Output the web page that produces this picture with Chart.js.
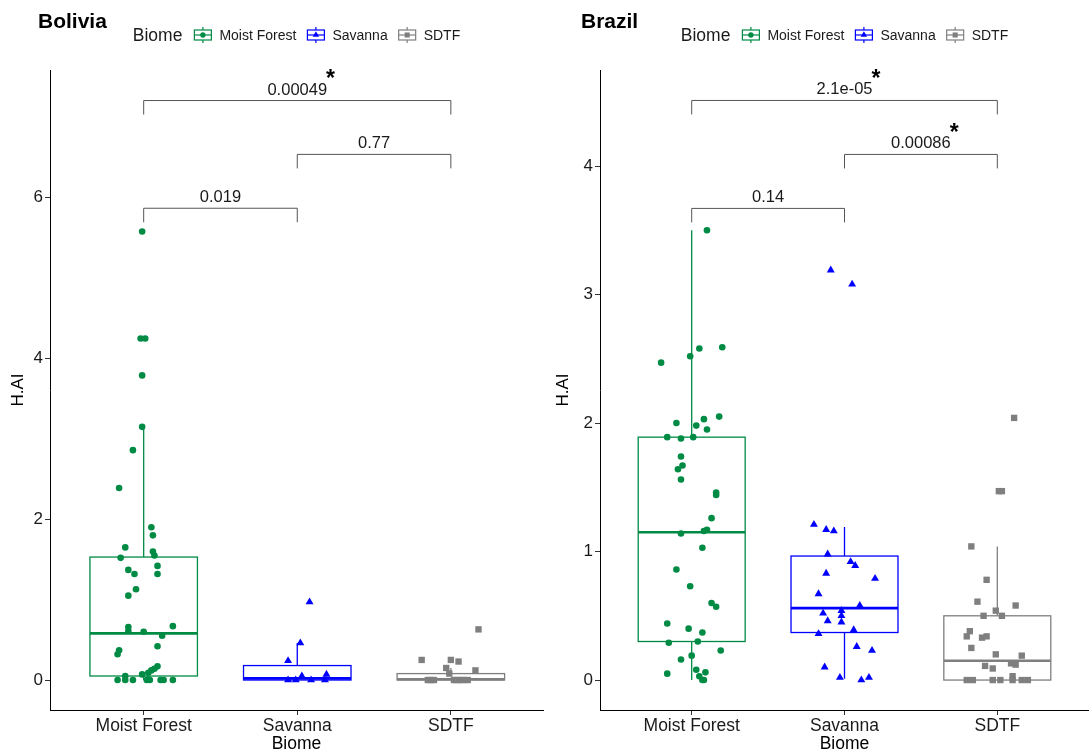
<!DOCTYPE html>
<html>
<head>
<meta charset="utf-8">
<title>H.AI by biome</title>
<script src="https://cdn.jsdelivr.net/npm/chart.js@4.4.0/dist/chart.umd.min.js"></script>
<style>
  html, body { margin: 0; padding: 0; background: #fff; }
  #wrap { position: relative; width: 1089px; height: 755px; }
  canvas { position: absolute; top: 0; }
  #bolivia { left: 0; }
  #brazil { left: 545px; }
</style>
</head>
<body>
<div id="wrap">
  <canvas id="bolivia" width="545" height="755"></canvas>
  <canvas id="brazil" width="544" height="755"></canvas>
</div>
<script>
const biomes = ['Moist Forest', 'Savanna', 'SDTF'];

// Bolivia: H.AI per site and its horizontal jitter around the biome position
const bolMoistHAI = [5.58, 4.25, 4.25, 3.79, 3.15, 2.86, 2.39, 1.90, 1.80, 1.65, 1.60, 1.55, 1.52, 1.42,
  1.37, 1.32, 1.32, 1.13, 1.05, 0.67, 0.66, 0.61, 0.60, 0.55, 0.42, 0.37, 0.32, 0.17, 0.14, 0.12,
  0.09, 0.07, 0.05, 0.01, 0, 0, 0, 0, 0, 0, 0, 0];
const bolMoistJit = [-0.01, -0.02, 0.01, -0.01, -0.01, -0.07, -0.16, 0.05, 0.06, -0.12, 0.06, 0.07, -0.15, 0.09,
  -0.10, -0.06, 0.09, -0.05, -0.10, 0.19, -0.10, -0.10, 0.00, 0.12, 0.09, -0.16, -0.17, 0.09, 0.07, 0.05,
  0.03, -0.01, -0.12, 0.03, -0.17, -0.12, -0.07, 0.02, 0.04, 0.11, 0.13, 0.19];
const bolSavHAI = [0.97, 0.46, 0.24, 0.07, 0.05, 0, 0, 0, 0];
const bolSavJit = [0.08, 0.02, -0.06, 0.19, 0.03, -0.06, -0.01, 0.09, 0.18];
const bolSdtfHAI = [0.63, 0.25, 0.25, 0.23, 0.15, 0.12, 0.08, 0, 0, 0, 0, 0, 0, 0, 0];
const bolSdtfJit = [0.18, -0.19, 0.00, 0.05, -0.03, 0.16, -0.01, -0.15, -0.13, -0.11, 0.02, 0.04, 0.06, 0.08, 0.11];

// Bolivia box summaries (Moist Forest, Savanna, SDTF)
const bolBoxLow = [0, 0, 0];
const bolBoxQ1 = [0.05, 0, 0];
const bolBoxMed = [0.58, 0.02, 0.01];
const bolBoxQ3 = [1.53, 0.18, 0.08];
const bolBoxHigh = [3.15, 0.46, 0.15];

// Bolivia pairwise tests
const bolPairs = [[1, 2], [2, 3], [1, 3]];
const bolPValues = ['0.019', '0.77', '0.00049'];
const bolPStars = ['', '', '*'];
const bolLabelY = [5.87, 6.54, 7.21];
const bolYTicks = [0, 2, 4, 6];

// Brazil
const braMoistHAI = [3.50, 2.59, 2.58, 2.52, 2.47, 2.05, 2.03, 2.00, 1.98, 1.95, 1.89, 1.88, 1.89, 1.74,
  1.67, 1.64, 1.56, 1.46, 1.44, 1.26, 1.17, 1.16, 1.14, 1.03, 0.86, 0.73, 0.60, 0.57, 0.44, 0.40,
  0.37, 0.30, 0.29, 0.23, 0.19, 0.16, 0.08, 0.06, 0.05, 0.03, 0, 0];
const braMoistJit = [0.10, 0.20, 0.05, -0.01, -0.20, 0.18, 0.08, -0.10, 0.03, 0.10, -0.16, -0.07, 0.01, -0.07,
  -0.06, -0.09, -0.07, 0.16, 0.16, 0.13, 0.10, 0.08, -0.07, 0.07, -0.10, -0.01, 0.13, 0.16, -0.16, -0.02,
  0.07, 0.04, -0.15, 0.19, 0.00, -0.07, 0.03, 0.09, -0.16, 0.05, 0.07, 0.08];
const braSavHAI = [3.19, 3.08, 1.21, 1.17, 1.16, 0.98, 0.92, 0.89, 0.83, 0.79, 0.67, 0.58, 0.54, 0.52,
  0.50, 0.46, 0.45, 0.39, 0.36, 0.26, 0.23, 0.10, 0.02, 0.02, 0];
const braSavJit = [-0.09, 0.05, -0.20, -0.12, -0.07, -0.11, 0.04, 0.07, -0.12, 0.20, -0.17, 0.10, -0.02, -0.14,
  -0.02, -0.11, -0.02, 0.06, -0.17, 0.08, 0.18, -0.13, -0.03, 0.16, 0.11];
const braSdtfHAI = [2.04, 1.47, 1.47, 1.04, 0.78, 0.61, 0.58, 0.54, 0.50, 0.50, 0.38, 0.34, 0.33, 0.34,
  0.25, 0.20, 0.19, 0.13, 0.12, 0.11, 0.09, 0.03, 0, 0, 0, 0, 0, 0, 0];
const braSdtfJit = [0.11, 0.01, 0.03, -0.17, -0.07, -0.13, 0.12, -0.01, -0.09, 0.03, -0.18, -0.20, -0.10, -0.07,
  -0.17, -0.01, 0.16, 0.09, 0.12, -0.08, -0.03, 0.10, -0.20, -0.16, -0.03, 0.02, 0.10, 0.16, 0.20];

const braBoxLow = [0, 0.01, 0];
const braBoxQ1 = [0.30, 0.37, 0];
const braBoxMed = [1.15, 0.56, 0.15];
const braBoxQ3 = [1.89, 0.965, 0.50];
const braBoxHigh = [3.50, 1.19, 1.04];

const braPairs = [[1, 2], [2, 3], [1, 3]];
const braPValues = ['0.14', '0.00086', '2.1e-05'];
const braPStars = ['', '*', '*'];
const braLabelY = [3.67, 4.09, 4.51];
const braYTicks = [0, 1, 2, 3, 4];

const biomeColors = ['#008B45', '#0000FF', '#7F7F7F'];
const biomeShapes = ['circle', 'triangle', 'rect'];
const pointSizes = [3.3, 4.6, 4.5];
const FONT = '"Liberation Sans", Arial, sans-serif';

Chart.defaults.font.family = FONT;
Chart.defaults.color = '#1a1a1a';

function drawKey(ctx, cx, cy, i) {
  ctx.save();
  ctx.strokeStyle = biomeColors[i];
  ctx.fillStyle = '#fff';
  ctx.lineWidth = 1.2;
  ctx.beginPath();
  ctx.moveTo(cx, cy - 8); ctx.lineTo(cx, cy - 5);
  ctx.moveTo(cx, cy + 5); ctx.lineTo(cx, cy + 8);
  ctx.stroke();
  ctx.fillRect(cx - 8.5, cy - 5, 17, 10);
  ctx.strokeRect(cx - 8.5, cy - 5, 17, 10);
  ctx.beginPath();
  ctx.moveTo(cx - 8.5, cy); ctx.lineTo(cx + 8.5, cy);
  ctx.stroke();
  ctx.fillStyle = biomeColors[i];
  Chart.helpers.drawPoint(ctx, { pointStyle: biomeShapes[i], radius: pointSizes[i] * 0.8, borderWidth: 0, rotation: 0 }, cx, cy);
  ctx.restore();
}

function panelDecor(p) {
  return {
    id: 'panelDecor',
    beforeDatasetsDraw(chart) {
      const { ctx, scales: { x, y } } = chart;
      const half = x.getPixelForValue(1.35) - x.getPixelForValue(1);
      p.med.forEach((m, i) => {
        const cx = x.getPixelForValue(i + 1);
        const top = y.getPixelForValue(p.q3[i]);
        const bot = y.getPixelForValue(p.q1[i]);
        ctx.save();
        ctx.strokeStyle = biomeColors[i];
        ctx.lineWidth = 1.3;
        ctx.beginPath();
        ctx.moveTo(cx, top); ctx.lineTo(cx, y.getPixelForValue(p.high[i]));
        ctx.moveTo(cx, bot); ctx.lineTo(cx, y.getPixelForValue(p.low[i]));
        ctx.stroke();
        ctx.fillStyle = '#fff';
        ctx.fillRect(cx - half, top, 2 * half, bot - top);
        ctx.strokeRect(cx - half, top, 2 * half, bot - top);
        const my = y.getPixelForValue(m);
        ctx.lineWidth = 2.6;
        ctx.beginPath();
        ctx.moveTo(cx - half, my); ctx.lineTo(cx + half, my);
        ctx.stroke();
        ctx.restore();
      });
    },
    afterDatasetsDraw(chart) {
      const { ctx, scales: { x, y } } = chart;
      p.pairs.forEach((pair, i) => {
        const x1 = x.getPixelForValue(pair[0]);
        const x2 = x.getPixelForValue(pair[1]);
        const yp = y.getPixelForValue(p.labelY[i]);
        ctx.save();
        ctx.strokeStyle = '#555';
        ctx.lineWidth = 1;
        ctx.beginPath();
        ctx.moveTo(x1, yp + 14); ctx.lineTo(x1, yp); ctx.lineTo(x2, yp); ctx.lineTo(x2, yp + 14);
        ctx.stroke();
        ctx.fillStyle = '#1a1a1a';
        ctx.font = '16.5px ' + FONT;
        ctx.textAlign = 'center';
        ctx.textBaseline = 'alphabetic';
        const mid = (x1 + x2) / 2;
        ctx.fillText(p.pValues[i], mid, yp - 6);
        if (p.stars[i]) {
          const w = ctx.measureText(p.pValues[i]).width;
          ctx.font = 'bold 23px ' + FONT;
          ctx.textAlign = 'left';
          ctx.fillStyle = '#000';
          ctx.fillText(p.stars[i], mid + w / 2 - 1, yp - 14.5);
        }
        ctx.restore();
      });
    },
    afterDraw(chart) {
      const { ctx, chartArea } = chart;
      ctx.save();
      ctx.fillStyle = '#000';
      ctx.font = 'bold 21px ' + FONT;
      ctx.textAlign = 'left';
      ctx.textBaseline = 'alphabetic';
      ctx.fillText(p.title, p.titleX, 28);

      // legend row centred over the panel
      ctx.font = '17.5px ' + FONT;
      const titleW = ctx.measureText('Biome').width;
      ctx.font = '14px ' + FONT;
      const labelW = biomes.map(b => ctx.measureText(b).width);
      const total = titleW + 11 + labelW.reduce((s, w) => s + w + 26, 0) + 10 * (biomes.length - 1);
      let lx = (chartArea.left + chartArea.right) / 2 - total / 2;
      const cy = 35;
      ctx.textBaseline = 'middle';
      ctx.fillStyle = '#1a1a1a';
      ctx.font = '17.5px ' + FONT;
      ctx.fillText('Biome', lx, cy + 1);
      lx += titleW + 11;
      ctx.font = '14px ' + FONT;
      biomes.forEach((b, i) => {
        drawKey(ctx, lx + 9.5, cy, i);
        lx += 26;
        ctx.fillStyle = '#1a1a1a';
        ctx.fillText(b, lx, cy + 1);
        lx += labelW[i] + 10;
      });
      ctx.restore();
    }
  };
}

function makePanel(id, groups, p, xMin, xMax, yMin, yMax, yTicks, yAxisWidth, rightPad) {
  const datasets = groups.map((g, i) => ({
    label: biomes[i],
    data: g.hai.map((v, k) => ({ x: i + 1 + g.jit[k], y: v })),
    pointStyle: biomeShapes[i],
    pointRadius: pointSizes[i],
    pointHoverRadius: pointSizes[i],
    backgroundColor: biomeColors[i],
    borderWidth: 0
  }));
  return new Chart(document.getElementById(id), {
    type: 'scatter',
    data: { datasets },
    options: {
      responsive: false,
      animation: false,
      layout: { autoPadding: false, padding: { top: 70, right: rightPad, left: 0, bottom: 0 } },
      plugins: { legend: { display: false }, title: { display: false }, tooltip: { enabled: false } },
      scales: {
        x: {
          type: 'linear',
          min: xMin,
          max: xMax,
          afterBuildTicks: s => { s.ticks = biomes.map((b, i) => ({ value: i + 1 })); },
          afterFit: s => { s.height = 45; s.paddingLeft = 0; s.paddingRight = 0; },
          ticks: { callback: v => biomes[v - 1], font: { size: 17.5 }, color: '#1a1a1a', padding: 1, maxRotation: 0 },
          grid: { display: true, drawOnChartArea: false, drawTicks: true, tickLength: 5, color: '#333' },
          border: { display: true, color: '#000', width: 1 },
          title: { display: true, text: 'Biome', font: { size: 17.5 }, color: '#000', padding: { top: 0, bottom: 0 } }
        },
        y: {
          type: 'linear',
          min: yMin,
          max: yMax,
          afterBuildTicks: s => { s.ticks = yTicks.map(v => ({ value: v })); },
          afterFit: s => { s.width = yAxisWidth; s.paddingTop = 0; s.paddingBottom = 0; },
          ticks: { font: { size: 17 }, color: '#1a1a1a', padding: 2 },
          grid: { display: true, drawOnChartArea: false, drawTicks: true, tickLength: 5, color: '#333' },
          border: { display: true, color: '#000', width: 1 },
          title: { display: true, text: 'H.AI', font: { size: 17 }, color: '#000', padding: { top: 8, bottom: 0 } }
        }
      }
    },
    plugins: [panelDecor(p)]
  });
}

makePanel('bolivia', [
  { hai: bolMoistHAI, jit: bolMoistJit },
  { hai: bolSavHAI, jit: bolSavJit },
  { hai: bolSdtfHAI, jit: bolSdtfJit }
], {
  title: 'Bolivia', titleX: 38,
  low: bolBoxLow, q1: bolBoxQ1, med: bolBoxMed, q3: bolBoxQ3, high: bolBoxHigh,
  pairs: bolPairs, pValues: bolPValues, stars: bolPStars, labelY: bolLabelY
}, 0.39, 3.6, -0.373, 7.59, bolYTicks, 50, 2);

makePanel('brazil', [
  { hai: braMoistHAI, jit: braMoistJit },
  { hai: braSavHAI, jit: braSavJit },
  { hai: braSdtfHAI, jit: braSdtfJit }
], {
  title: 'Brazil', titleX: 36,
  low: braBoxLow, q1: braBoxQ1, med: braBoxMed, q3: braBoxQ3, high: braBoxHigh,
  pairs: braPairs, pValues: braPValues, stars: braPStars, labelY: braLabelY
}, 0.4, 3.6, -0.233, 4.747, braYTicks, 55, 0);
</script>
</body>
</html>
